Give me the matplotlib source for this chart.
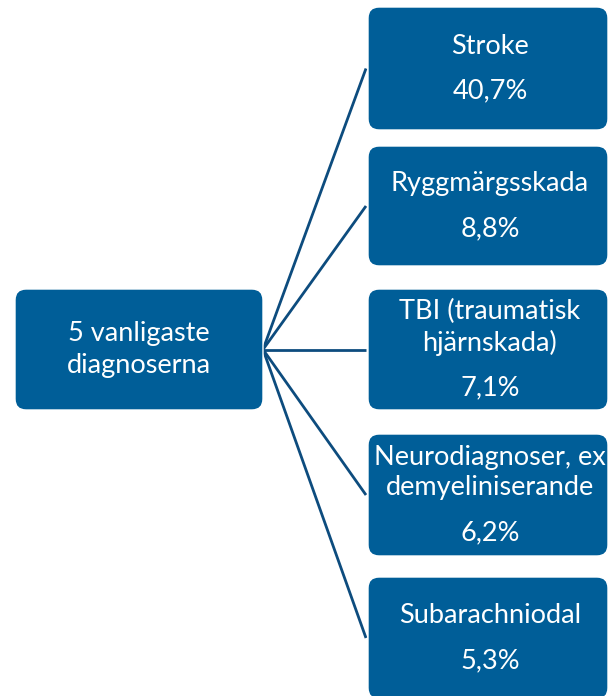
import matplotlib
matplotlib.use("Agg")
import matplotlib.pyplot as plt
from matplotlib.patches import FancyBboxPatch

root_label = "5 vanligaste\ndiagnoserna"
categories = ["Stroke", "Ryggmärgsskada", "TBI (traumatisk\nhjärnskada)",
              "Neurodiagnoser, ex\ndemyeliniserande", "Subarachniodal"]
shares = ["40,7%", "8,8%", "7,1%", "6,2%", "5,3%"]

BOX = "#005e98"
LINE = "#0d4c7e"
FONT = ["Lato", "DejaVu Sans"]
FS = 19.5

W, H = 610, 696
fig = plt.figure(figsize=(W / 100, H / 100), dpi=100)
ax = fig.add_axes([0, 0, 1, 1])
ax.set_xlim(0, W)
ax.set_ylim(H, 0)
ax.axis("off")

# layout (pixels)
root_x0, root_x1, root_y0, root_y1 = 15, 263, 289, 410
right_x0, right_x1 = 368, 608
box_tops = [7, 146, 289, 434, 577]
box_bots = [130, 266, 410, 556, 699]
line_sp, par_sp = 31, 45

def rbox(x0, y0, x1, y1):
    p = FancyBboxPatch((x0 + 9, y0 + 9), (x1 - x0) - 18, (y1 - y0) - 18,
                       boxstyle="round,pad=9,rounding_size=11",
                       facecolor=BOX, edgecolor="white", linewidth=1.0,
                       mutation_aspect=1, zorder=2)
    ax.add_patch(p)

rbox(root_x0, root_y0, root_x1, root_y1)
rc = (root_y0 + root_y1) / 2
rl = root_label.split("\n")
for i, t in enumerate(rl):
    y = rc - (len(rl) - 1) * line_sp / 2 + i * line_sp
    ax.text((root_x0 + root_x1) / 2, y, t, ha="center", va="center",
            color="white", fontsize=FS, family=FONT, zorder=3)

for k, (cat, pct) in enumerate(zip(categories, shares)):
    y0, y1 = box_tops[k], box_bots[k]
    cy = (y0 + y1) / 2
    ax.plot([root_x1, right_x0 - 2], [rc, cy], color=LINE, lw=2.0,
            solid_capstyle="butt", zorder=1)
    rbox(right_x0, y0, right_x1, y1)
    lines = cat.split("\n")
    total = (len(lines) - 1) * line_sp + par_sp
    ys = cy - total / 2
    cx = (right_x0 + right_x1) / 2 + 2
    for i, t in enumerate(lines):
        ax.text(cx, ys + i * line_sp, t, ha="center", va="center",
                color="white", fontsize=FS, family=FONT, zorder=3)
    ax.text(cx, ys + (len(lines) - 1) * line_sp + par_sp, pct, ha="center",
            va="center", color="white", fontsize=FS, family=FONT, zorder=3)

fig.savefig("out.png", dpi=100)
